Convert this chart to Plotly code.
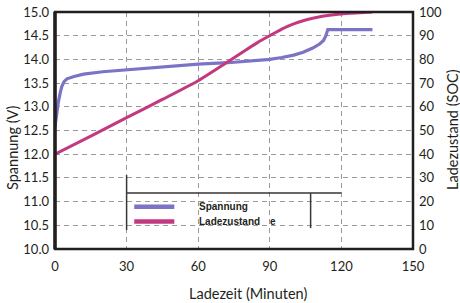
import plotly.graph_objects as go

# Data
time_v = [0, 0.7, 1.4, 2.2, 2.8, 3.8, 5, 8, 12, 20, 30, 40, 50, 60, 72.5, 80, 90, 95, 100, 104, 108, 111, 112.5, 113.5, 114.3, 120, 133]
voltage = [12.58, 12.9, 13.1, 13.3, 13.42, 13.53, 13.59, 13.64, 13.69, 13.74, 13.78, 13.83, 13.87, 13.9, 13.93, 13.96, 14.0, 14.04, 14.09, 14.15, 14.24, 14.33, 14.4, 14.5, 14.63, 14.63, 14.63]

time_soc = [0, 15, 30, 45, 60, 72.5, 80, 85, 90, 95, 100, 105, 110, 115, 120, 126, 133]
soc = [40, 47.6, 55.4, 63.1, 71.0, 79, 84, 87.2, 90, 92.8, 95, 96.6, 97.8, 98.6, 99.2, 99.6, 100]

x_ticks = [0, 30, 60, 90, 120, 150]
y_ticks = [10.0, 10.5, 11.0, 11.5, 12.0, 12.5, 13.0, 13.5, 14.0, 14.5, 15.0]
y2_ticks = [0, 10, 20, 30, 40, 50, 60, 70, 80, 90, 100]

legend_names = ["Spannung", "Ladezustand"]

BLUE = "#7b73c6"
MAGENTA = "#c2397f"
FRAME = "#231f20"
GRID = "#9a9a9a"
tickfont = dict(family="Lato", size=13, color="#231f20")
titlefont = dict(family="Lato", size=14.5, color="#231f20")

W, H = 460, 303
L, R, T, B = 55, 460 - 413, 12, 303 - 249
PW, PH = W - L - R, H - T - B

fig = go.Figure()
fig.add_trace(go.Scatter(x=time_soc, y=soc, yaxis="y2", mode="lines",
                         line=dict(color=MAGENTA, width=3, shape="spline", smoothing=0.6),
                         name=legend_names[1], showlegend=False))
fig.add_trace(go.Scatter(x=time_v, y=voltage, mode="lines",
                         line=dict(color=BLUE, width=3.2),
                         name=legend_names[0], showlegend=False))

shapes = []
# frame
shapes.append(dict(type="rect", xref="paper", yref="paper", x0=0, x1=1, y0=0, y1=1,
                   line=dict(color=FRAME, width=2.5), layer="above"))
shapes.append(dict(type="line", xref="paper", yref="paper", x0=0, x1=0, y0=0, y1=1,
                   line=dict(color=FRAME, width=3.5), layer="above"))
# legend box lines
lc = dict(color="#3a3536", width=1.5)
shapes.append(dict(type="line", xref="x", yref="y", x0=30, x1=120, y0=11.18, y1=11.18, line=lc))
shapes.append(dict(type="line", xref="x", yref="y", x0=30, x1=30, y0=11.56, y1=10.40, line=lc))
shapes.append(dict(type="line", xref="x", yref="y", x0=107.1, x1=107.1, y0=11.18, y1=10.44, line=lc))
# legend swatches
shapes.append(dict(type="line", xref="x", yref="y", x0=33.2, x1=50, y0=10.89, y1=10.89,
                   line=dict(color=BLUE, width=4.5)))
shapes.append(dict(type="line", xref="x", yref="y", x0=33.2, x1=50, y0=10.58, y1=10.58,
                   line=dict(color=MAGENTA, width=4.5)))

legfont = dict(family="Liberation Sans", size=10, color="#231f20")
annotations = [
    dict(x=59.5, y=10.89, xref="x", yref="y", text="<b>" + legend_names[0] + "</b>", showarrow=False,
         xanchor="left", yanchor="middle", font=legfont),
    dict(x=59.5, y=10.58, xref="x", yref="y", text="<b>" + legend_names[1] + "</b>", showarrow=False,
         xanchor="left", yanchor="middle", font=legfont),
    dict(x=89.4, y=10.58, xref="x", yref="y", text="<b>e</b>", showarrow=False,
         xanchor="left", yanchor="middle", font=legfont),
]

# axis titles, positioned by page pixels (centre)
titles = [
    ("Ladezeit (Minuten)", 248, 293, 0),
    ("Spannung (V)", 12, 148, -90),
    ("Ladezustand (SOC)", 452, 130, -90),
]
for text, px, py, ang in titles:
    annotations.append(dict(x=(px - L) / PW, y=(H - py - B) / PH, xref="paper", yref="paper",
                            text=text, showarrow=False, font=titlefont, textangle=ang,
                            xanchor="center", yanchor="middle"))

fig.update_layout(
    width=W, height=H,
    margin=dict(l=L, r=R, t=T, b=B, autoexpand=False),
    paper_bgcolor="white", plot_bgcolor="white",
    shapes=shapes, annotations=annotations,
    xaxis=dict(range=[0, 150], tickvals=x_ticks, showgrid=True, gridcolor=GRID,
               griddash="5px,4px", gridwidth=1, zeroline=False, showline=False,
               ticks="", tickfont=tickfont, automargin=False, ticklabelstandoff=8,
               ticklabeloverflow="allow"),
    yaxis=dict(range=[10, 15], tickvals=y_ticks, tickformat=".1f", showgrid=True,
               gridcolor=GRID, griddash="5px,4px", gridwidth=1, zeroline=False,
               showline=False, ticks="", tickfont=tickfont, automargin=False,
               ticklabelstandoff=5, ticklabeloverflow="allow"),
    yaxis2=dict(range=[0, 100], tickvals=y2_ticks, overlaying="y", side="right",
                showgrid=False, zeroline=False, showline=False, ticks="",
                tickfont=tickfont, automargin=False, ticklabelstandoff=5,
                ticklabeloverflow="allow"),
)

fig.write_html("out.html", config={"displayModeBar": False, "staticPlot": True},
               post_script="document.body.style.margin='0';document.body.style.overflow='hidden';")
